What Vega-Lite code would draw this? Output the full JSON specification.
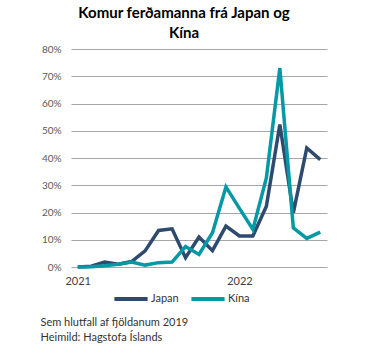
{
 "$schema": "https://vega.github.io/schema/vega-lite/v6.json",
 "width": 256,
 "height": 218,
 "autosize": {"type": "none"},
 "padding": {"left": 71, "top": 49, "right": 44, "bottom": 89},
 "background": "white",
 "config": {"view": {"stroke": null}},
 "title": {"text": ["Komur ferðamanna frá Japan og", "Kína"], "font": "Lato", "fontSize": 15, "fontWeight": "bold", "color": "#000000", "anchor": "middle", "frame": "group", "dx": -15, "offset": 3, "lineHeight": 20},
 "data": {"values": [
  {"month": "2021-01", "series": "Japan", "value": 0.0},
  {"month": "2021-02", "series": "Japan", "value": 0.003},
  {"month": "2021-03", "series": "Japan", "value": 0.018},
  {"month": "2021-04", "series": "Japan", "value": 0.010},
  {"month": "2021-05", "series": "Japan", "value": 0.020},
  {"month": "2021-06", "series": "Japan", "value": 0.059},
  {"month": "2021-07", "series": "Japan", "value": 0.134},
  {"month": "2021-08", "series": "Japan", "value": 0.140},
  {"month": "2021-09", "series": "Japan", "value": 0.034},
  {"month": "2021-10", "series": "Japan", "value": 0.110},
  {"month": "2021-11", "series": "Japan", "value": 0.060},
  {"month": "2021-12", "series": "Japan", "value": 0.150},
  {"month": "2022-01", "series": "Japan", "value": 0.114},
  {"month": "2022-02", "series": "Japan", "value": 0.114},
  {"month": "2022-03", "series": "Japan", "value": 0.223},
  {"month": "2022-04", "series": "Japan", "value": 0.523},
  {"month": "2022-05", "series": "Japan", "value": 0.199},
  {"month": "2022-06", "series": "Japan", "value": 0.437},
  {"month": "2022-07", "series": "Japan", "value": 0.394},
  {"month": "2021-01", "series": "Kína", "value": 0.0},
  {"month": "2021-02", "series": "Kína", "value": 0.001},
  {"month": "2021-03", "series": "Kína", "value": 0.005},
  {"month": "2021-04", "series": "Kína", "value": 0.010},
  {"month": "2021-05", "series": "Kína", "value": 0.018},
  {"month": "2021-06", "series": "Kína", "value": 0.007},
  {"month": "2021-07", "series": "Kína", "value": 0.016},
  {"month": "2021-08", "series": "Kína", "value": 0.018},
  {"month": "2021-09", "series": "Kína", "value": 0.075},
  {"month": "2021-10", "series": "Kína", "value": 0.046},
  {"month": "2021-11", "series": "Kína", "value": 0.126},
  {"month": "2021-12", "series": "Kína", "value": 0.294},
  {"month": "2022-01", "series": "Kína", "value": 0.215},
  {"month": "2022-02", "series": "Kína", "value": 0.138},
  {"month": "2022-03", "series": "Kína", "value": 0.327},
  {"month": "2022-04", "series": "Kína", "value": 0.730},
  {"month": "2022-05", "series": "Kína", "value": 0.144},
  {"month": "2022-06", "series": "Kína", "value": 0.105},
  {"month": "2022-07", "series": "Kína", "value": 0.128}
 ]},
 "mark": {"type": "line", "strokeWidth": 3.5},
 "encoding": {
  "x": {"field": "month", "type": "ordinal", "scale": {"type": "point", "padding": 0.5},
   "axis": {"labelExpr": "slice(datum.value, 5) == '01' ? slice(datum.value, 0, 4) : ''", "labelAngle": 0, "ticks": false, "domain": false, "grid": false, "labelOverlap": false, "labelPadding": 8, "labelFont": "Lato", "labelFontSize": 11, "labelColor": "#404040",
    "title": ["Sem hlutfall af fjöldanum 2019", "Heimild: Hagstofa Íslands"], "titleFont": "Lato", "titleFontSize": 11, "titleFontWeight": "normal", "titleColor": "#333333", "titleAnchor": "start", "titleAlign": "left", "titleX": -31, "titleY": 49, "titleBaseline": "top", "titleLineHeight": 15}},
  "y": {"field": "value", "type": "quantitative", "scale": {"domain": [0, 0.8]},
   "axis": {"format": ".0%", "values": [0, 0.1, 0.2, 0.3, 0.4, 0.5, 0.6, 0.7, 0.8], "title": null, "domain": false, "ticks": false, "gridColor": "#a6a6a6", "gridWidth": 1.2, "labelFont": "Lato", "labelFontSize": 10, "labelColor": "#595959", "labelPadding": 10}},
  "color": {"field": "series", "type": "nominal", "scale": {"domain": ["Japan", "Kína"], "range": ["#2e4a6e", "#0599a6"]},
   "legend": {"title": null, "orient": "none", "direction": "horizontal", "legendX": 41, "legendY": 231, "symbolType": "stroke", "symbolSize": 1100, "symbolStrokeWidth": 4, "labelFont": "Lato", "labelFontSize": 11, "labelColor": "#333333", "columnPadding": 4, "labelOffset": 1, "padding": 0}}
 }
}
